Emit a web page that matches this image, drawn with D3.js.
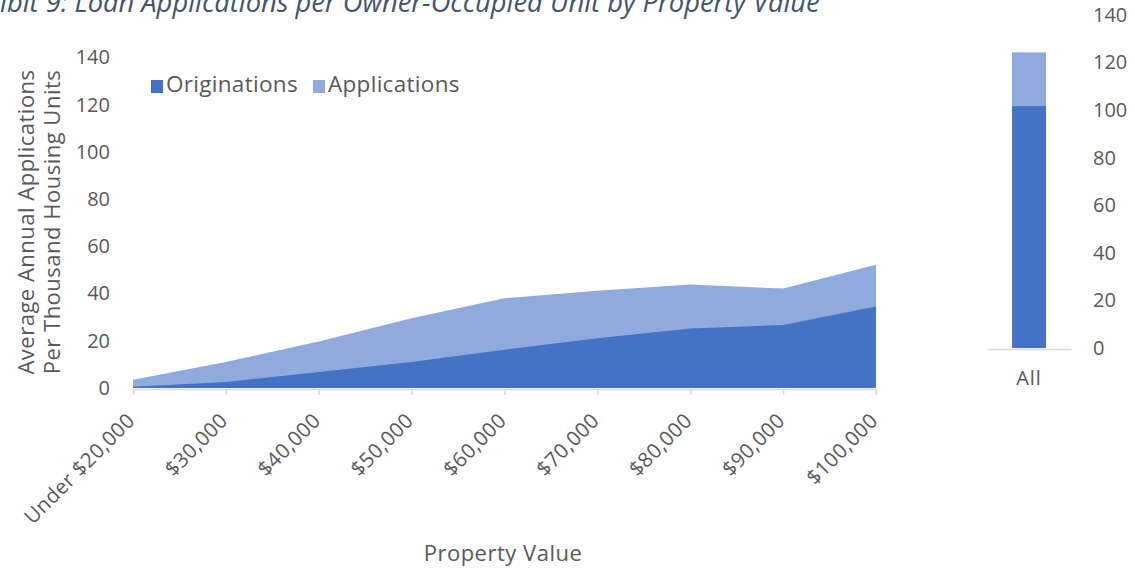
<!DOCTYPE html>
<html><head><meta charset="utf-8">
<script src="https://cdn.jsdelivr.net/npm/d3@7"></script>
<style>
html,body{margin:0;padding:0;background:#fff;}
svg{display:block;font-family:"Open Sans",Lato,sans-serif;}
</style></head>
<body><svg id="c" width="1135" height="569"></svg>
<script>
const categories = ["Under $20,000","$30,000","$40,000","$50,000","$60,000","$70,000","$80,000","$90,000","$100,000"];
const originations = [0.5, 2.5, 6.8, 11, 16.2, 21.1, 25.2, 26.7, 34.5];
const applications = [3.5, 11, 19.7, 29.5, 38, 41.2, 43.8, 42.1, 52.2];
const allCategory = ["All"];
const allOriginations = [101.7];
const allApplications = [124.3];
const yTicks = [0,20,40,60,80,100,120,140];
const seriesNames = ["Originations","Applications"];

const dark = "#4472C4", light = "#8FAADC", txt = "#595959", axisCol = "#D9D9D9";
const svg = d3.select("#c");

// Title (left part runs off the canvas as in the reference)
const title = svg.append("text").attr("x", 0).attr("y", 12)
  .attr("font-style","italic").attr("font-size", 24).attr("fill","#44546A")
  .text("Exhibit 9: Loan Applications per Owner-Occupied Unit by Property Value");
{
  const node = title.node();
  const n = node.getNumberOfChars();
  const rest = node.getSubStringLength(3, n - 3);
  const fs = 24 * 820 / rest;
  title.attr("font-size", fs);
  const exh2 = node.getSubStringLength(0, 3);
  title.attr("x", -exh2);
}

// Left chart
const x = d3.scalePoint().domain(categories).range([133, 876]);
const y = d3.scaleLinear().domain([0,140]).range([388, 57.5]);

const area = (vals) => d3.area().x((d,i)=>x(categories[i])).y0(y(0)).y1(d=>y(d))(vals);
svg.append("path").attr("d", area(applications)).attr("fill", light);
svg.append("path").attr("d", area(originations)).attr("fill", dark);

// Y axis labels
const yAx = svg.append("g").attr("transform","translate(110,0)")
  .call(d3.axisLeft(y).tickValues(yTicks).tickSize(0).tickPadding(0));
yAx.select(".domain").remove();
yAx.selectAll("text").attr("font-size", 20).attr("fill", txt).attr("font-family","'Open Sans',sans-serif");

// X axis
const xAx = svg.append("g").attr("transform","translate(0,389)")
  .call(d3.axisBottom(x).tickSize(6).tickFormat(""));
xAx.select(".domain").attr("stroke", axisCol).attr("stroke-width",1.5);
xAx.selectAll(".tick line").attr("stroke", axisCol).attr("stroke-width",1.5);
svg.append("g").selectAll("text").data(categories).join("text")
  .attr("transform", d=>`translate(${x(d)+3},${422}) rotate(-45)`)
  .attr("text-anchor","end")
  .attr("font-size", 20.5).attr("fill", txt).attr("letter-spacing",0.4).text(d=>d);

// Axis titles
svg.append("text").attr("transform","translate(25,222) rotate(-90)").attr("text-anchor","middle")
  .attr("dominant-baseline","central").attr("font-size",22).attr("letter-spacing",0.5).attr("fill",txt).text("Average Annual Applications");
svg.append("text").attr("transform","translate(51,222) rotate(-90)").attr("text-anchor","middle")
  .attr("dominant-baseline","central").attr("font-size",22).attr("letter-spacing",0.5).attr("fill",txt).text("Per Thousand Housing Units");
svg.append("text").attr("x",503).attr("y",561).attr("text-anchor","middle")
  .attr("font-size",22).attr("fill",txt).attr("letter-spacing",0.5).text("Property Value");

// Legend
const legX = [151, 313];
seriesNames.forEach((n,i)=>{
  svg.append("rect").attr("x",legX[i]).attr("y",80).attr("width",12).attr("height",13).attr("fill", i===0?dark:light);
  svg.append("text").attr("x",legX[i]+15).attr("y",92).attr("font-size",22.5).attr("letter-spacing",0.3).attr("fill",txt).text(n);
});

// Right chart
const xr = d3.scaleBand().domain(allCategory).range([987,1071]).paddingInner(0).paddingOuter(0.3);
const yr = d3.scaleLinear().domain([0,140]).range([348, 15]);
svg.append("g").selectAll("rect.a").data(allCategory).join("rect")
  .attr("x", d=>xr(d)+ (xr.bandwidth()-34)/2).attr("width",34)
  .attr("y",(d,i)=>yr(allApplications[i])).attr("height",(d,i)=>yr(0)-yr(allApplications[i])).attr("fill",light);
svg.append("g").selectAll("rect.o").data(allCategory).join("rect")
  .attr("x", d=>xr(d)+ (xr.bandwidth()-34)/2).attr("width",34)
  .attr("y",(d,i)=>yr(allOriginations[i])).attr("height",(d,i)=>yr(0)-yr(allOriginations[i])).attr("fill",dark);
const xrAx = svg.append("g").attr("transform","translate(0,349)").call(d3.axisBottom(xr).tickSize(0).tickPadding(22));
xrAx.select(".domain").attr("stroke",axisCol).attr("stroke-width",1.5);
xrAx.selectAll("text").attr("font-size",20).attr("fill",txt).attr("font-family","'Open Sans',sans-serif").attr("letter-spacing",1);
const yrAx = svg.append("g").attr("transform","translate(1093,0)")
  .call(d3.axisRight(yr).tickValues(yTicks).tickSize(0).tickPadding(0));
yrAx.select(".domain").remove();
yrAx.selectAll("text").attr("font-size",20).attr("fill",txt).attr("font-family","'Open Sans',sans-serif");
</script></body></html>
